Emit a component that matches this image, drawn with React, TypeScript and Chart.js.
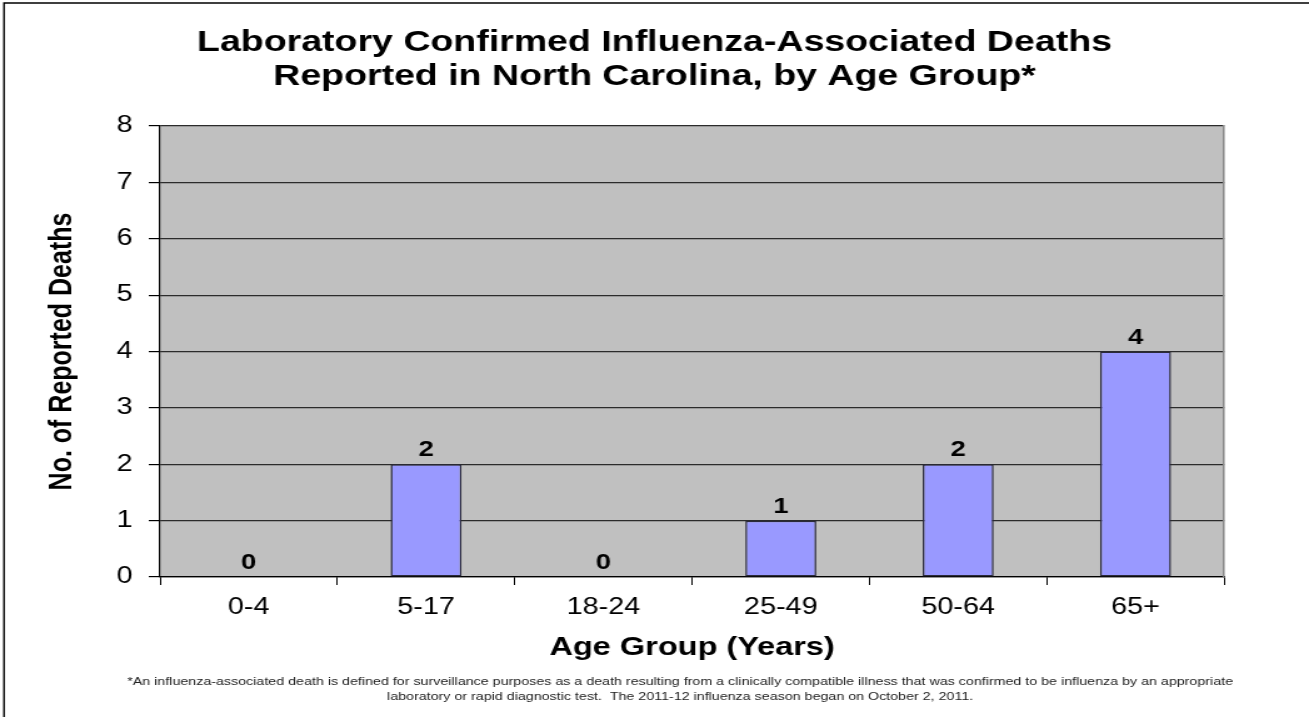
import React, { useEffect, useRef } from "react";
import { Chart, registerables } from "chart.js";

Chart.register(...registerables);

const titleLines = [
  "Laboratory Confirmed Influenza-Associated Deaths",
  "Reported in North Carolina, by Age Group*",
];
const ageGroups = ["0-4", "5-17", "18-24", "25-49", "50-64", "65+"];
const deaths = [0, 2, 0, 1, 2, 4];
const yMin = 0;
const yMax = 8;
const yStep = 1;
const yAxisTitle = "No. of Reported Deaths";
const xAxisTitle = "Age Group (Years)";
const footnoteLines = [
  "*An influenza-associated death is defined for surveillance purposes as a death resulting from a clinically compatible illness that was confirmed to be influenza by an appropriate",
  "laboratory or rapid diagnostic test.  The 2011-12 influenza season began on October 2, 2011.",
];

const SX = 1.25; // horizontal stretch of the original picture
const SCREEN_W = 1309;
const SCREEN_H = 717;
const CW = Math.round(SCREEN_W / SX);
const FONT = "'Liberation Sans', Arial, sans-serif";

const decorPlugin = {
  id: "decor",
  beforeDraw(chart: any) {
    const { ctx, chartArea, width, height } = chart;
    ctx.save();
    ctx.fillStyle = "#ffffff";
    ctx.fillRect(0, 0, width, height);
    ctx.strokeStyle = "#000000";
    ctx.lineWidth = 1.4;
    ctx.beginPath();
    ctx.moveTo(3.2, height);
    ctx.lineTo(3.2, 3);
    ctx.lineTo(width, 3);
    ctx.stroke();
    ctx.fillStyle = "#C0C0C0";
    ctx.fillRect(chartArea.left, chartArea.top, chartArea.right - chartArea.left, chartArea.bottom - chartArea.top);
    ctx.restore();
  },
  afterDatasetsDraw(chart: any) {
    const { ctx } = chart;
    const meta = chart.getDatasetMeta(0);
    ctx.save();
    ctx.font = `bold 22px ${FONT}`;
    ctx.fillStyle = "#000000";
    ctx.textAlign = "center";
    ctx.textBaseline = "middle";
    meta.data.forEach((bar: any, i: number) => {
      ctx.fillText(String(deaths[i]), bar.x, bar.y - 14);
    });
    ctx.restore();
  },
  afterDraw(chart: any) {
    const { ctx } = chart;
    ctx.save();
    ctx.font = `10px ${FONT}`;
    const w = ctx.measureText(footnoteLines[0]).width;
    const size = (10 * (1106 / SX)) / w;
    ctx.font = `${size}px ${FONT}`;
    ctx.fillStyle = "#222222";
    ctx.textAlign = "center";
    ctx.textBaseline = "middle";
    const cx = 680 / SX;
    ctx.fillText(footnoteLines[0], cx, 682);
    ctx.fillText(footnoteLines[1], cx, 697);
    ctx.restore();
  },
};

export default function App() {
  const canvasRef = useRef<HTMLCanvasElement>(null);

  useEffect(() => {
    document.body.style.margin = "0";
    const canvas = canvasRef.current;
    if (!canvas) return;
    Chart.defaults.font.family = FONT;
    const plotLeft = 160 / SX;
    const plotRight = 1224 / SX;
    const chart = new Chart(canvas, {
      type: "bar",
      data: {
        labels: ageGroups,
        datasets: [
          {
            data: deaths,
            backgroundColor: "#9999FF",
            borderColor: "#2a2a3a",
            borderWidth: 1.5,
            borderSkipped: false,
            barPercentage: 0.4,
            categoryPercentage: 1,
            yAxisID: "y",
          },
        ],
      },
      plugins: [decorPlugin],
      options: {
        responsive: false,
        animation: false,
        devicePixelRatio: 1,
        layout: { padding: { left: 0, right: 0, top: 0, bottom: 717 - 663.6 } },
        plugins: {
          legend: { display: false },
          tooltip: { enabled: false },
          title: {
            display: true,
            text: titleLines,
            color: "#000000",
            font: { size: 30, weight: "bold", family: FONT, lineHeight: 34 / 30 },
            padding: { top: 26, bottom: 32 },
          },
        },
        scales: {
          x: {
            position: "bottom",
            offset: true,
            grid: {
              display: true,
              offset: true,
              drawOnChartArea: false,
              drawTicks: true,
              tickLength: 8,
              color: "#000000",
              tickColor: "#000000",
            },
            border: { display: true, color: "#000000", width: 1.2 },
            ticks: {
              color: "#000000",
              font: { size: 23, family: FONT },
              padding: 9,
              maxRotation: 0,
            },
            title: {
              display: true,
              text: xAxisTitle,
              color: "#000000",
              font: { size: 26, weight: "bold", family: FONT, lineHeight: 1.2 },
              padding: { top: 0, bottom: 0 },
            },
            afterFit(scale: any) {
              scale.height = 663.6 - 577;
            },
          },
          y: {
            position: "left",
            min: yMin,
            max: yMax,
            grid: {
              display: true,
              drawOnChartArea: true,
              drawTicks: true,
              tickLength: 9,
              color: "#2b2b2b",
              tickColor: "#000000",
              lineWidth: 1.2,
            },
            border: { display: true, color: "#000000", width: 1.2 },
            ticks: {
              stepSize: yStep,
              color: "#000000",
              font: { size: 23, family: FONT },
              padding: 13,
            },
            title: {
              display: true,
              text: yAxisTitle,
              color: "#000000",
              font: { size: 25, weight: "bold", family: FONT, lineHeight: 1.2 },
              padding: { top: 50.4 - 15, bottom: 0 },
            },
            afterFit(scale: any) {
              scale.width = plotLeft;
            },
          },
          yRight: {
            position: "right",
            type: "linear",
            min: yMin,
            max: yMax,
            grid: { display: false, drawTicks: false },
            ticks: { display: false },
            border: { display: true, color: "#8a8a8a", width: 1.5 },
            afterFit(scale: any) {
              scale.width = CW - plotRight;
            },
          },
        },
      },
    } as any);
    return () => chart.destroy();
  }, []);

  return (
    <div style={{ position: "absolute", left: 0, top: 0, width: SCREEN_W, height: SCREEN_H, background: "#fff" }}>
      <canvas
        ref={canvasRef}
        width={CW}
        height={SCREEN_H}
        style={{ display: "block", width: `${SCREEN_W}px`, height: `${SCREEN_H}px` }}
      />
    </div>
  );
}
